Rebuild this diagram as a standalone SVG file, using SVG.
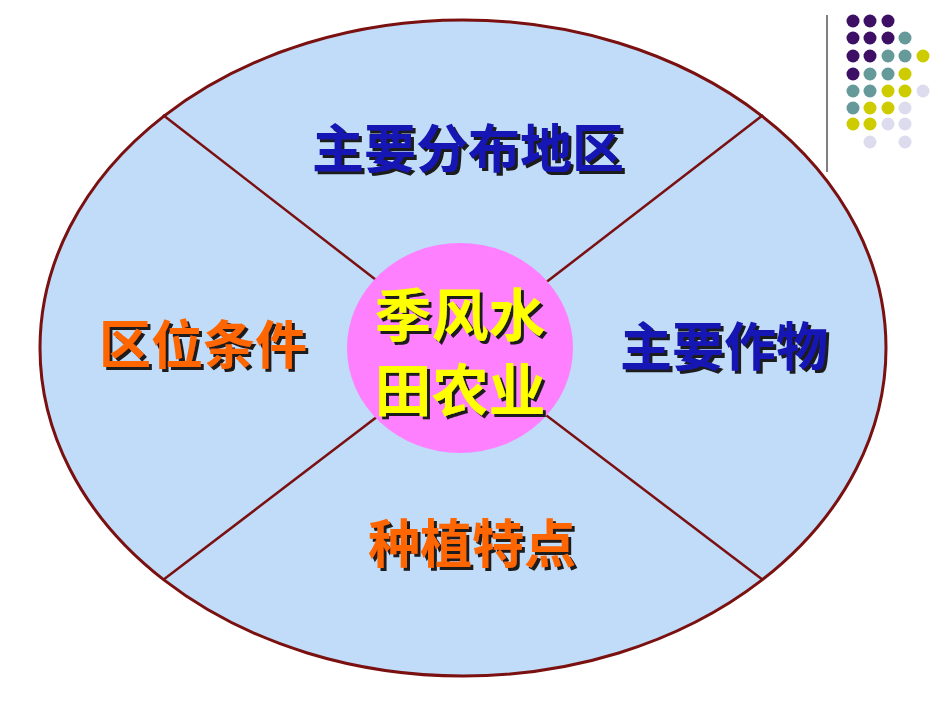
<svg xmlns="http://www.w3.org/2000/svg" width="950" height="713" viewBox="0 0 950 713">
<defs>
<filter id="shadow" x="-10%" y="-20%" width="130%" height="150%">
<feDropShadow dx="3" dy="3" stdDeviation="0.3" flood-color="#1a1a1a" flood-opacity="1"/>
</filter>
</defs>
<style>
.t{font-family:"Liberation Sans","Noto Sans CJK SC",sans-serif;font-weight:bold;text-anchor:middle;filter:url(#shadow)}
.blue{fill:#1212b4}
.orange{fill:#ff6600}
.yel{fill:#ffff00}
.ln{stroke:#7a1010;stroke-width:2.5}
.p{fill:#3d1065}.g{fill:#669999}.y{fill:#cccc00}.l{fill:#dcdcee}
</style>
<rect width="950" height="713" fill="#ffffff"/>
<g id="decor">
<line x1="827" y1="15" x2="827" y2="172" stroke="#555" stroke-width="1.5"/>
<g id="dots">
<circle class="p" cx="853" cy="21" r="6.5"/><circle class="p" cx="870" cy="21" r="6.5"/><circle class="p" cx="888" cy="21" r="6.5"/>
<circle class="p" cx="853" cy="38" r="6.5"/><circle class="p" cx="870" cy="38" r="6.5"/><circle class="p" cx="888" cy="38" r="6.5"/><circle class="g" cx="905" cy="38" r="6.5"/>
<circle class="p" cx="853" cy="56" r="6.5"/><circle class="p" cx="870" cy="56" r="6.5"/><circle class="g" cx="888" cy="56" r="6.5"/><circle class="g" cx="905" cy="56" r="6.5"/><circle class="y" cx="923" cy="56" r="6.5"/>
<circle class="p" cx="853" cy="74" r="6.5"/><circle class="g" cx="870" cy="74" r="6.5"/><circle class="g" cx="888" cy="74" r="6.5"/><circle class="y" cx="905" cy="74" r="6.5"/>
<circle class="g" cx="853" cy="91" r="6.5"/><circle class="g" cx="870" cy="91" r="6.5"/><circle class="y" cx="888" cy="91" r="6.5"/><circle class="y" cx="905" cy="91" r="6.5"/><circle class="l" cx="923" cy="91" r="6.5"/>
<circle class="g" cx="853" cy="108" r="6.5"/><circle class="y" cx="870" cy="108" r="6.5"/><circle class="y" cx="888" cy="108" r="6.5"/><circle class="l" cx="905" cy="108" r="6.5"/>
<circle class="y" cx="853" cy="124" r="6.5"/><circle class="y" cx="870" cy="124" r="6.5"/><circle class="l" cx="888" cy="124" r="6.5"/><circle class="l" cx="905" cy="124" r="6.5"/>
<circle class="l" cx="870" cy="142" r="6.5"/><circle class="l" cx="905" cy="142" r="6.5"/>
</g>
</g>
<g id="outer">
<ellipse cx="463" cy="348" rx="423" ry="328" fill="#c0dcf8" stroke="#7a1010" stroke-width="3"/>
</g>
<g id="connectors">
<line class="ln" x1="163" y1="115" x2="420" y2="314"/>
<line class="ln" x1="763" y1="115" x2="505" y2="314"/>
<line class="ln" x1="163" y1="580" x2="420" y2="384"/>
<line class="ln" x1="763" y1="580" x2="505" y2="384"/>
</g>
<g id="center">
<ellipse cx="460" cy="348" rx="113" ry="105" fill="#ff80ff"/>
<text class="t yel" x="460" y="336" font-size="57">季风水</text>
<text class="t yel" x="460" y="411" font-size="57">田农业</text>
</g>
<g id="top">
<text class="t blue" x="468" y="168" font-size="52">主要分布地区</text>
</g>
<g id="left">
<text class="t orange" x="203" y="364" font-size="52">区位条件</text>
</g>
<g id="right">
<text class="t blue" x="724" y="366" font-size="52">主要作物</text>
</g>
<g id="bottom">
<text class="t orange" x="472" y="563" font-size="52">种植特点</text>
</g>
</svg>
